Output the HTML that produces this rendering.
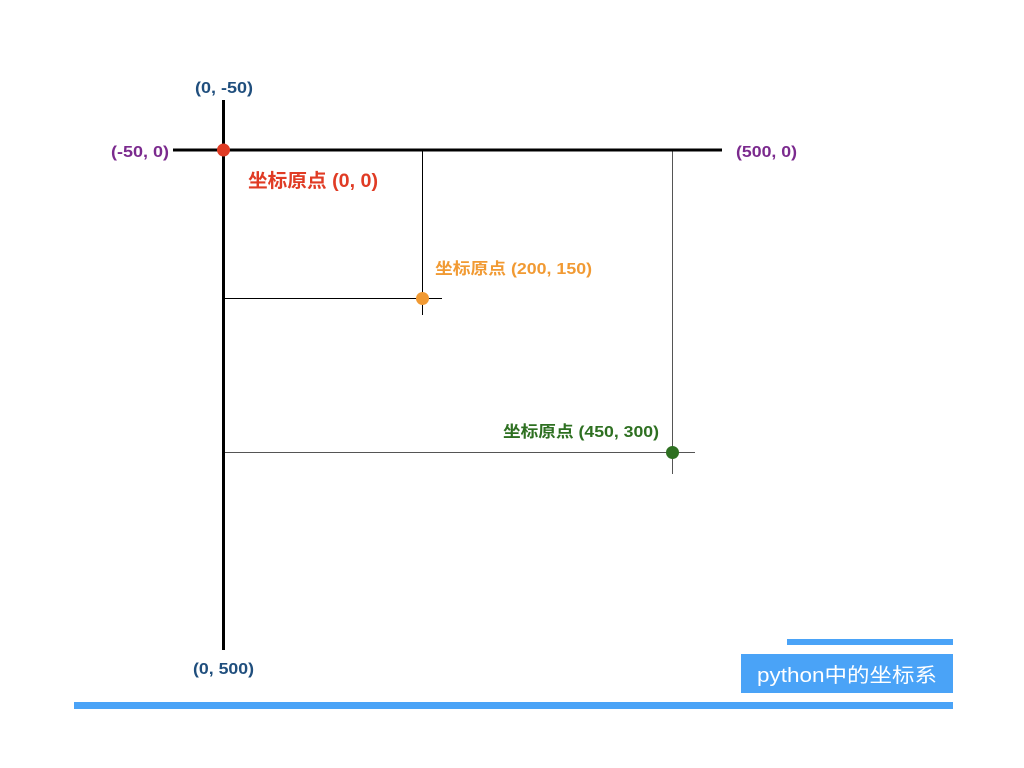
<!DOCTYPE html>
<html><head><meta charset="utf-8"><style>
body{margin:0;width:1024px;height:768px;background:#fff;overflow:hidden}
svg{display:block}
text{font-family:"Liberation Sans","Noto Sans CJK SC",sans-serif;font-weight:bold}
</style></head><body>
<svg width="1024" height="768" viewBox="0 0 1024 768">
<line x1="422.5" y1="150" x2="422.5" y2="315" stroke="#000" stroke-width="1"/>
<line x1="223" y1="298.5" x2="442" y2="298.5" stroke="#000" stroke-width="1"/>
<line x1="672.5" y1="150" x2="672.5" y2="474" stroke="#555" stroke-width="1"/>
<line x1="223" y1="452.5" x2="695" y2="452.5" stroke="#555" stroke-width="1"/>
<line x1="223.5" y1="100" x2="223.5" y2="650" stroke="#000" stroke-width="3"/>
<line x1="173" y1="150" x2="722" y2="150" stroke="#000" stroke-width="3"/>
<circle cx="223.5" cy="150" r="6.5" fill="#e03b24"/>
<circle cx="422.5" cy="298.5" r="6.5" fill="#f19a33"/>
<circle cx="672.5" cy="452.5" r="6.5" fill="#2e7021"/>
<text x="195" y="93" font-size="16" fill="#1f4e7d" textLength="58" lengthAdjust="spacingAndGlyphs">(0, -50)</text>
<text x="193" y="674" font-size="16" fill="#1f4e7d" textLength="61" lengthAdjust="spacingAndGlyphs">(0, 500)</text>
<text x="111" y="157" font-size="16" fill="#7b2a8e" textLength="58" lengthAdjust="spacingAndGlyphs">(-50, 0)</text>
<text x="736" y="157" font-size="16" fill="#7b2a8e" textLength="61" lengthAdjust="spacingAndGlyphs">(500, 0)</text>
<text x="248" y="187" font-size="19" fill="#e03b24" textLength="130" lengthAdjust="spacingAndGlyphs">坐标原点 (0, 0)</text>
<text x="435" y="274" font-size="16" fill="#f19a33" textLength="157" lengthAdjust="spacingAndGlyphs">坐标原点 (200, 150)</text>
<text x="503" y="437" font-size="16" fill="#2e7021" textLength="156" lengthAdjust="spacingAndGlyphs">坐标原点 (450, 300)</text>
<rect x="787" y="639" width="166" height="6" fill="#4aa3f7"/>
<rect x="741" y="654" width="212" height="39" fill="#4aa3f7"/>
<rect x="74" y="702" width="879" height="7" fill="#4aa3f7"/>
<text x="757" y="682" font-size="20" fill="#fff" textLength="180" lengthAdjust="spacingAndGlyphs" style="font-weight:normal">python中的坐标系</text>
</svg>
</body></html>
